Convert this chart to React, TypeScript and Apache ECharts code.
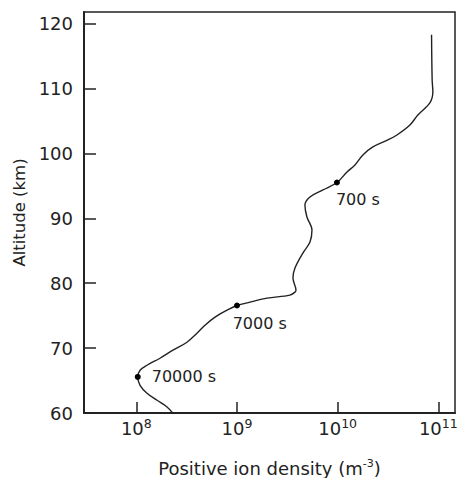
import React, { useEffect, useRef } from "react";
import * as echarts from "echarts";

// Profile: log10(positive ion density, m^-3) vs altitude (km)
const densityLog: number[] = [
  8.361, 8.305, 8.206, 8.106, 8.037, 8.014, 8.037, 8.106, 8.235, 8.364, 8.503, 8.603, 8.682,
  8.782, 8.901, 9.0, 9.129, 9.298, 9.526, 9.576, 9.586, 9.556, 9.576, 9.655, 9.725, 9.745,
  9.695, 9.675, 9.725, 9.854, 9.993, 10.093, 10.172, 10.251, 10.35, 10.499, 10.589, 10.718,
  10.797, 10.916, 10.946, 10.939, 10.933,
];
const altitude: number[] = [
  60.0, 60.93, 61.96, 63.04, 64.27, 65.56, 66.59, 67.36, 68.44, 69.68, 70.91, 72.3, 73.53,
  74.77, 75.85, 76.57, 77.08, 77.7, 78.16, 78.63, 78.93, 80.79, 82.33, 84.65, 86.34, 88.19,
  90.2, 92.05, 93.29, 94.37, 95.52, 97.15, 98.22, 99.77, 101.0, 102.08, 102.85, 104.39,
  105.93, 107.78, 109.54, 111.34, 118.29,
];

// Marked times
const markLabels: string[] = ["70000 s", "7000 s", "700 s"];
const markDensityLog: number[] = [8.014, 9.0, 9.993];
const markAltitude: number[] = [65.56, 76.57, 95.52];

const xTickExponents: number[] = [8, 9, 10, 11];
const yTicks: number[] = [60, 70, 80, 90, 100, 110, 120];

const FONT = "DejaVu Sans";
const INK = "#222";

export default function App() {
  const ref = useRef<HTMLDivElement>(null);
  useEffect(() => {
    if (!ref.current) return;
    const chart = echarts.init(ref.current, null, { renderer: "svg" });
    const labelPos: number[][] = [
      [17, 3],
      [-1.3, 21],
      [2, 19.5],
    ];
    chart.setOption({
      animation: false,
      textStyle: { fontFamily: FONT, color: INK },
      grid: {
        left: 84,
        top: 12,
        right: 5,
        bottom: 65,
        outerBoundsMode: "none",
        containLabel: false,
        show: true,
        borderColor: INK,
        borderWidth: 1.5,
      },
      xAxis: {
        type: "value",
        min: 7.48,
        max: 11.166,
        name: "Positive ion density (m{s|-3})",
        nameLocation: "middle",
        nameGap: 45,
        nameTextStyle: {
          fontFamily: FONT,
          fontSize: 18,
          color: INK,
          rich: {
            s: { fontFamily: FONT, fontSize: 11, color: INK, padding: [0, 0, 9, 0] },
          },
        },
        axisLine: { show: true, lineStyle: { color: INK, width: 2 } },
        axisTick: {
          show: true,
          inside: true,
          length: 11,
          customValues: xTickExponents,
          lineStyle: { color: INK, width: 1.5 },
        },
        axisLabel: {
          show: true,
          customValues: xTickExponents,
          margin: 4,
          formatter: (v: number) => `{b|10}{s|${Math.round(v)}}`,
          rich: {
            b: { fontFamily: FONT, fontSize: 18, color: INK },
            s: { fontFamily: FONT, fontSize: 12.5, color: INK, padding: [0, 0, 10, 0] },
          },
        },
        splitLine: { show: false },
      },
      yAxis: {
        type: "value",
        min: 60,
        max: 121.8,
        name: "Altitude (km)",
        nameLocation: "middle",
        nameGap: 55,
        nameTextStyle: { fontFamily: FONT, fontSize: 16.5, color: INK },
        axisLine: { show: true, lineStyle: { color: INK, width: 2 } },
        axisTick: {
          show: true,
          inside: true,
          length: 12,
          customValues: yTicks,
          lineStyle: { color: INK, width: 1.5 },
        },
        axisLabel: {
          show: true,
          customValues: yTicks,
          margin: 11,
          fontFamily: FONT,
          fontSize: 18,
          color: INK,
        },
        splitLine: { show: false },
      },
      series: [
        {
          type: "line",
          data: densityLog.map((x, i) => [x, altitude[i]]),
          smooth: 0.35,
          showSymbol: false,
          lineStyle: { color: INK, width: 1.4 },
        },
        {
          type: "scatter",
          symbolSize: 6,
          itemStyle: { color: "#000", opacity: 1 },
          data: markDensityLog.map((x, i) => ({
            value: [x, markAltitude[i]],
            label: {
              show: true,
              formatter: markLabels[i],
              position: labelPos[i],
              align: "left",
              verticalAlign: "middle",
              fontFamily: FONT,
              fontSize: 16,
              color: INK,
            },
          })),
          z: 5,
        },
      ],
    });
    return () => chart.dispose();
  }, []);
  return (
    <div
      ref={ref}
      style={{ position: "absolute", left: 0, top: 0, width: 460, height: 478 }}
    />
  );
}
